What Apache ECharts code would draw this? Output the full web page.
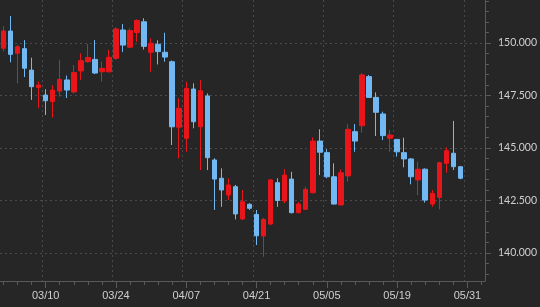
<!DOCTYPE html>
<html>
<head>
<meta charset="utf-8">
<script src="https://cdn.jsdelivr.net/npm/echarts@6/dist/echarts.min.js"></script>
<style>
html,body{margin:0;padding:0;background:#262626;}
#chart{width:540px;height:307px;}
</style>
</head>
<body>
<div id="chart"></div>
<script>
// trading days (plus padding slots on the right)
const categories = [
  '02/28',
  '03/03','03/04','03/05','03/06','03/07',
  '03/10','03/11','03/12','03/13','03/14',
  '03/17','03/18','03/19','03/20','03/21',
  '03/24','03/25','03/26','03/27','03/28',
  '03/31','04/01','04/02','04/03','04/04',
  '04/07','04/08','04/09','04/10','04/11',
  '04/14','04/15','04/16','04/17','04/18',
  '04/21','04/22','04/23','04/24','04/25',
  '04/28','04/29','04/30','05/01','05/02',
  '05/05','05/06','05/07','05/08','05/09',
  '05/12','05/13','05/14','05/15','05/16',
  '05/19','05/20','05/21','05/22','05/23',
  '05/26','05/27','05/28','05/29','05/30',
  '05/31','06/01','06/02'
];
const tickLabels = ['03/10','03/24','04/07','04/21','05/05','05/19','05/31'];
const yLabelValues = [140, 142.5, 145, 147.5, 150];

const opens  = [149.75,150.57,149.51,149.73,148.71,147.88,147.52,147.21,147.71,148.24,147.67,148.67,149.11,149.22,148.63,148.63,149.27,150.62,149.80,150.50,151.01,149.56,149.94,149.56,149.11,145.99,145.46,147.81,146.01,147.48,144.43,143.56,142.76,143.16,141.62,142.32,141.84,140.81,141.38,143.35,142.48,143.52,141.92,142.08,142.87,145.33,144.78,143.63,142.29,143.67,145.78,146.06,148.40,147.41,146.62,145.46,145.41,144.78,144.48,143.48,143.99,142.33,142.65,144.27,144.75,144.11];
const closes = [150.57,149.46,149.82,148.80,147.92,148.00,147.25,147.76,148.27,147.76,148.59,149.16,149.31,148.57,148.79,149.32,150.67,149.90,150.59,151.07,149.84,149.99,149.59,149.33,146.01,146.89,147.84,146.25,147.73,144.54,143.52,143.00,143.24,141.86,142.44,142.13,140.82,141.60,143.48,142.50,143.71,141.92,142.33,143.03,145.33,144.80,143.63,142.33,143.82,145.89,145.33,148.48,147.41,146.70,145.59,145.62,144.82,144.48,143.63,143.99,142.52,142.84,144.30,144.87,144.11,143.56];
const lows   = [149.60,149.08,148.08,148.38,147.29,146.90,146.57,146.45,147.44,147.38,147.60,148.24,149.06,148.52,148.16,148.59,149.19,149.57,149.75,150.06,149.69,148.63,148.98,149.11,145.14,144.51,144.82,145.94,143.95,143.95,142.05,142.20,142.52,141.60,141.57,142.05,140.38,139.82,141.33,142.20,142.37,141.89,141.89,142.05,142.84,143.71,143.56,142.31,142.27,143.40,144.82,145.73,147.38,145.57,145.38,144.82,144.59,144.08,143.27,142.76,142.40,142.20,142.08,143.82,143.95,143.51];
const highs  = [150.80,151.29,149.90,150.14,149.30,148.17,147.80,148.00,149.19,148.45,148.95,149.51,149.95,150.14,149.11,149.67,150.75,150.90,150.70,151.13,151.18,150.22,150.13,150.49,149.17,147.37,148.16,148.08,148.24,147.60,144.51,144.03,143.56,143.24,143.00,142.37,142.05,141.67,143.52,143.56,143.99,143.87,142.43,143.16,145.51,145.89,144.94,144.27,143.99,146.13,146.14,148.56,148.48,147.65,146.73,145.86,145.43,145.49,144.52,144.35,144.03,143.00,144.35,145.03,146.29,144.14];

const candleData = opens.map((o, i) => [o, closes[i], lows[i], highs[i]]);

const yMin = 138.667, yMax = 152.048;
const minorYValues = [];
for (let v = 139; v <= 152; v += 0.5) minorYValues.push(v);

const UP = '#e8161b', DOWN = '#72b8f2';
const TXT = '#cfcfcf', AX = '#5a5a5a', GRIDC = '#4a4a4a';

const isMajor = (idx) => tickLabels.indexOf(categories[idx]) >= 0;

const chart = echarts.init(document.getElementById('chart'), null, {renderer: 'canvas'});
chart.setOption({
  backgroundColor: '#262626',
  animation: false,
  grid: {left: -5.4, right: 53, top: 0, bottom: 26},
  xAxis: [{
    type: 'category',
    data: categories,
    boundaryGap: true,
    axisLine: {show: true, lineStyle: {color: AX}},
    axisTick: {show: true, alignWithLabel: true, length: 7, lineStyle: {color: AX},
      interval: (i) => isMajor(i)},
    axisLabel: {color: TXT, fontSize: 11, fontFamily: 'Liberation Sans, Arial, sans-serif', margin: 9,
      interval: (i) => isMajor(i)},
    splitLine: {show: true, interval: (i) => isMajor(i), lineStyle: {color: GRIDC, type: [2, 3]}}
  }, {
    type: 'category',
    data: categories,
    boundaryGap: true,
    position: 'bottom',
    axisLine: {show: false},
    axisTick: {show: true, alignWithLabel: true, length: 4, lineStyle: {color: AX},
      interval: (i) => i % 2 === 0},
    axisLabel: {show: false},
    splitLine: {show: false}
  }],
  yAxis: [{
    type: 'value',
    position: 'right',
    min: yMin, max: yMax,
    axisLine: {show: true, lineStyle: {color: AX}},
    axisTick: {show: true, length: 6, customValues: yLabelValues, lineStyle: {color: AX}},
    axisLabel: {color: TXT, fontSize: 10.5, fontFamily: 'Lato, sans-serif', margin: 13,
      customValues: yLabelValues, formatter: (v) => v.toFixed(3)},
    splitLine: {show: true, lineStyle: {color: GRIDC, type: [2, 3]}}
  }, {
    type: 'value',
    position: 'right',
    min: yMin, max: yMax,
    axisLine: {show: false},
    axisTick: {show: true, length: 4, customValues: minorYValues, lineStyle: {color: AX}},
    axisLabel: {show: false},
    splitLine: {show: false}
  }],
  series: [{
    type: 'candlestick',
    xAxisIndex: 0,
    yAxisIndex: 0,
    data: candleData,
    barWidth: 5,
    itemStyle: {color: UP, color0: DOWN, borderColor: UP, borderColor0: DOWN, borderWidth: 1}
  }]
});
</script>
</body>
</html>
